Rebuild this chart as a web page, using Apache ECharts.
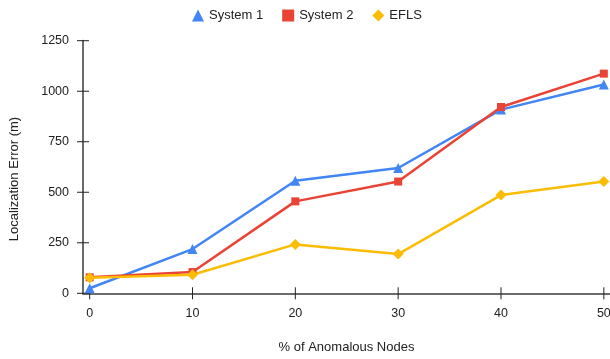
<!DOCTYPE html>
<html>
<head>
<meta charset="utf-8">
<script src="https://cdn.jsdelivr.net/npm/echarts@6/dist/echarts.min.js"></script>
<style>
  html, body { margin: 0; padding: 0; background: #fff; }
  #chart { width: 610px; height: 359px; }
</style>
</head>
<body>
<div id="chart"></div>
<script>
// Share of anomalous nodes (%)
const anomalousPct = [0, 10, 20, 30, 40, 50];
// Localization error (m) per method
const system1 = [25, 219, 557, 620, 909, 1033];
const system2 = [79, 105, 455, 553, 922, 1087];
const efls = [77, 92, 242, 194, 486, 553];
// Axis tick values
const xTicks = [0, 10, 20, 30, 40, 50];
const yTicks = [0, 250, 500, 750, 1000, 1250];

const FONT = '"Liberation Sans", Arial, sans-serif';
const X_MIN = -0.65, X_MAX = 50.6;
const TICK_HALF = 6;
const pairs = (vals) => anomalousPct.map((x, i) => [x, vals[i]]);

// Tick marks that cross the axis line on both sides
function crossTick(vertical) {
  return function (params, api) {
    const p = api.coord([api.value(0), api.value(1)]);
    const shape = vertical
      ? { x1: p[0], y1: p[1] - TICK_HALF, x2: p[0], y2: p[1] + TICK_HALF }
      : { x1: p[0] - TICK_HALF, y1: p[1], x2: p[0] + TICK_HALF, y2: p[1] };
    return { type: 'line', shape: shape, style: { stroke: '#222', lineWidth: 1 } };
  };
}

const chart = echarts.init(document.getElementById('chart'));

chart.setOption({
  animation: false,
  textStyle: { fontFamily: FONT },
  legend: {
    top: 4,
    left: 187,
    itemGap: 19,
    itemWidth: 12,
    itemHeight: 12,
    textStyle: { fontFamily: FONT, fontSize: 13, color: '#222' },
    data: [
      { name: 'System 1', icon: 'triangle' },
      { name: 'System 2', icon: 'rect' },
      { name: 'EFLS', icon: 'diamond' }
    ]
  },
  grid: { left: 83, right: 0, top: 40.7, bottom: 65.7, containLabel: false, outerBoundsMode: 'none' },
  xAxis: {
    type: 'value', min: X_MIN, max: X_MAX,
    splitLine: { show: false },
    name: '% of Anomalous Nodes',
    nameLocation: 'middle',
    nameGap: 48,
    nameTextStyle: { fontFamily: FONT, fontSize: 13, color: '#222' },
    axisLine: { show: true, onZero: false, lineStyle: { color: '#6b6b6b', width: 2 } },
    axisTick: { show: false },
    axisLabel: { customValues: xTicks, margin: 14, fontFamily: FONT, fontSize: 12.5, color: '#222' }
  },
  yAxis: {
    type: 'value', min: 0, max: 1250, interval: 250,
    splitLine: { show: false },
    name: 'Localization Error (m)',
    nameLocation: 'middle',
    nameGap: 62,
    nameTextStyle: { fontFamily: FONT, fontSize: 13, color: '#222', padding: [0, 24, 0, 0] },
    axisLine: { show: true, onZero: false, lineStyle: { color: '#6b6b6b', width: 2 } },
    axisTick: { show: false },
    axisLabel: {
      customValues: yTicks, margin: 14, fontFamily: FONT, fontSize: 12.5, color: '#222',
      formatter: (v) => String(v)
    }
  },
  series: [
    {
      name: 'System 1', type: 'line',
      data: pairs(system1), symbol: 'triangle', symbolSize: 10,
      color: '#4285F4', lineStyle: { width: 2.5, color: '#4285F4' },
      itemStyle: { color: '#4285F4' }
    },
    {
      name: 'System 2', type: 'line',
      data: pairs(system2), symbol: 'rect', symbolSize: 8,
      color: '#EA4335', lineStyle: { width: 2.5, color: '#EA4335' },
      itemStyle: { color: '#EA4335' }
    },
    {
      name: 'EFLS', type: 'line',
      data: pairs(efls), symbol: 'diamond', symbolSize: 11,
      color: '#FBBC04', lineStyle: { width: 2.5, color: '#FBBC04' },
      itemStyle: { color: '#FBBC04' }
    },
    {
      name: 'xTicks', type: 'custom', silent: true, clip: false, z: 1,
      data: xTicks.map((v) => [v, 0]),
      renderItem: crossTick(true)
    },
    {
      name: 'yTicks', type: 'custom', silent: true, clip: false, z: 1,
      data: yTicks.map((v) => [X_MIN, v]),
      renderItem: crossTick(false)
    }
  ]
});
</script>
</body>
</html>
